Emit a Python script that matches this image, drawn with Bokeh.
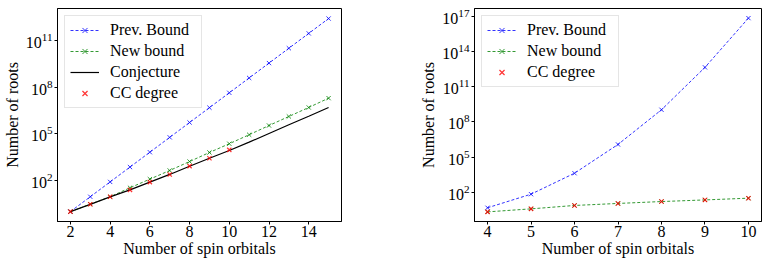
from bokeh.plotting import figure
from bokeh.layouts import row
from bokeh.models import Range1d, FixedTicker
from bokeh.embed import file_html
from bokeh.resources import INLINE

# ---- Left panel data ----
n_left = [2, 3, 4, 5, 6, 7, 8, 9, 10, 11, 12, 13, 14, 15]
prev_left = [1, 9, 81, 729, 6561, 59049, 531441, 4.78e6, 4.30e7, 3.87e8, 3.49e9, 3.14e10, 2.82e11, 2.54e12]
new_left = [1, 3, 9, 34, 122, 440, 1650, 6300, 23000, 87000, 3.4e5, 1.3e6, 4.9e6, 1.95e7]
conj_left = [1, 2.9, 8.9, 25, 78, 245, 830, 2700, 8500, 2.9e4, 1.05e5, 3.8e5, 1.35e6, 4.9e6]
n_cc_left = [2, 3, 4, 5, 6, 7, 8, 9, 10]
cc_left = [1, 3, 9, 25, 78, 245, 835, 2700, 9300]

# ---- Right panel data ----
n_right = [4, 5, 6, 7, 8, 9, 10]
prev_right = [4.7, 68, 4200, 1.2e6, 1.1e9, 4.6e12, 7.4e16]
new_right = [2.1, 3.8, 7.4, 11, 16, 22, 31]
cc_right = [2.1, 3.8, 7.4, 11, 16, 22, 31]

ticks_x_left = [2, 4, 6, 8, 10, 12, 14]
ticks_y_left = [1e2, 1e5, 1e8, 1e11]
ticks_x_right = [4, 5, 6, 7, 8, 9, 10]
ticks_y_right = [1e2, 1e5, 1e8, 1e11, 1e14, 1e17]

FONT = "Liberation Serif"
FS = "16px"
BLUE = "#0000ff"
GREEN = "#008000"
RED = "#ff0000"


def style(p, xt, yt):
    p.xaxis.ticker = FixedTicker(ticks=xt, minor_ticks=[])
    p.yaxis.ticker = FixedTicker(ticks=yt, minor_ticks=[])
    p.xgrid.visible = False
    p.ygrid.visible = False
    p.outline_line_color = "black"
    p.outline_line_alpha = 1
    p.outline_line_width = 1
    for ax in (p.xaxis, p.yaxis):
        ax.axis_line_color = "black"
        ax.major_tick_line_color = "black"
        ax.major_tick_out = 3
        ax.major_tick_in = 0
        ax.minor_tick_line_color = None
        ax.major_label_text_font = FONT
        ax.major_label_text_font_size = FS
        ax.major_label_text_color = "black"
        ax.axis_label_text_font = FONT
        ax.axis_label_text_font_size = FS
        ax.axis_label_text_font_style = "normal"
        ax.axis_label_text_color = "black"
    p.xaxis.major_label_standoff = 1
    p.xaxis.axis_label_standoff = 0
    p.yaxis.major_label_standoff = 2
    p.yaxis.axis_label_standoff = 2
    p.xaxis.axis_label = "Number of spin orbitals"
    p.yaxis.axis_label = "Number of roots"


def style_legend(p):
    lg = p.legend[0]
    lg.location = "top_left"
    lg.margin = 7
    lg.padding = 5
    lg.spacing = 3
    lg.glyph_width = 29
    lg.glyph_height = 18
    lg.label_height = 18
    lg.label_width = 86
    lg.label_standoff = 11
    lg.label_text_font = FONT
    lg.label_text_font_size = FS
    lg.label_text_color = "black"
    lg.border_line_color = "#cccccc"
    lg.border_line_width = 1
    lg.background_fill_color = "white"
    lg.background_fill_alpha = 0.8


# ---- Left figure ----
p1 = figure(width=380, height=259, y_axis_type="log",
            x_range=Range1d(1.35, 15.65), y_range=Range1d(10 ** -0.635, 10 ** 13.05),
            output_backend="svg", toolbar_location=None,
            min_border_left=53, min_border_right=39, min_border_top=8, min_border_bottom=38)
style(p1, ticks_x_left, ticks_y_left)

p1.line(n_left, prev_left, color=BLUE, line_dash="3 2", line_width=1, alpha=0.8, legend_label="Prev. Bound")
p1.scatter(n_left, prev_left, marker="x", size=6, color=BLUE, line_width=1, alpha=0.8, legend_label="Prev. Bound")
p1.line(n_left, new_left, color=GREEN, line_dash="3 2", line_width=1, alpha=0.8, legend_label="New bound")
p1.scatter(n_left, new_left, marker="x", size=6, color=GREEN, line_width=1, alpha=0.8, legend_label="New bound")
p1.line(n_left, conj_left, color="black", line_width=1.2, legend_label="Conjecture")
p1.scatter(n_cc_left, cc_left, marker="x", size=6, color=RED, line_width=1.2, alpha=0.8, legend_label="CC degree")
style_legend(p1)

# ---- Right figure ----
p2 = figure(width=387, height=259, y_axis_type="log",
            x_range=Range1d(3.7, 10.3), y_range=Range1d(10 ** -0.5, 10 ** 17.69),
            output_backend="svg", toolbar_location=None,
            min_border_left=94, min_border_right=6, min_border_top=8, min_border_bottom=38)
style(p2, ticks_x_right, ticks_y_right)

p2.line(n_right, prev_right, color=BLUE, line_dash="3 2", line_width=1, alpha=0.8, legend_label="Prev. Bound")
p2.scatter(n_right, prev_right, marker="x", size=6, color=BLUE, line_width=1, alpha=0.8, legend_label="Prev. Bound")
p2.line(n_right, new_right, color=GREEN, line_dash="3 2", line_width=1, alpha=0.8, legend_label="New bound")
p2.scatter(n_right, new_right, marker="x", size=6, color=GREEN, line_width=1, alpha=0.8, legend_label="New bound")
p2.scatter(n_right, cc_right, marker="x", size=6, color=RED, line_width=1.2, alpha=0.8, legend_label="CC degree")
style_legend(p2)

layout = row(p1, p2)
open("out.html", "w").write(file_html(layout, INLINE))
